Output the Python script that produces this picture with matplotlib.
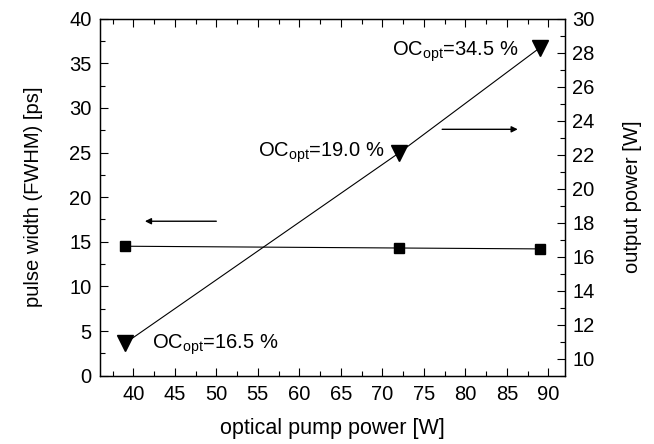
import matplotlib
matplotlib.use("Agg")
import matplotlib.pyplot as plt
from matplotlib.ticker import MultipleLocator

plt.rcParams['font.family'] = ['Liberation Sans', 'DejaVu Sans']
plt.rcParams['mathtext.fontset'] = 'custom'
plt.rcParams['mathtext.rm'] = 'Liberation Sans'
plt.rcParams['mathtext.it'] = 'Liberation Sans'

# data
pump_power = [39, 72, 89]
pulse_width = [14.5, 14.3, 14.2]        # ps, left axis
output_power = [10.9, 22.1, 28.3]       # W, right axis
oc_labels = ["16.5", "19.0", "34.5"]
# label anchors (x, left-axis y)
oc_pos = [(42.2, 3.05), (55.0, 24.5), (71.1, 35.9)]

fig = plt.figure(figsize=(6.54, 4.44), dpi=100)
ax = fig.add_axes([0.153, 0.154, 0.711, 0.804])
ax2 = ax.twinx()

ax.plot(pump_power, pulse_width, '-', color='black', lw=0.8,
        marker='s', markersize=7.5, zorder=3)
ax2.plot(pump_power, output_power, '-', color='black', lw=0.8,
         marker='v', markersize=11, zorder=3)

ax.set_xlim(36, 92)
ax.set_ylim(0, 40)
ax2.set_ylim(9, 30)

ax.xaxis.set_major_locator(MultipleLocator(5))
ax.xaxis.set_minor_locator(MultipleLocator(2.5))
ax.yaxis.set_major_locator(MultipleLocator(5))
ax.yaxis.set_minor_locator(MultipleLocator(2.5))
ax2.yaxis.set_major_locator(MultipleLocator(2))
ax2.yaxis.set_minor_locator(MultipleLocator(1))

ax.tick_params(which='both', direction='in', top=True, right=False,
               labelsize=14.5, width=0.8)
ax.tick_params(which='major', length=6)
ax.tick_params(which='minor', length=3.5)
ax2.tick_params(which='both', direction='in', labelsize=14.5, width=0.8)
ax2.tick_params(which='major', length=6)
ax2.tick_params(which='minor', length=3.5)
ax.tick_params(axis='x', pad=7)
ax.tick_params(axis='y', pad=6)
ax2.tick_params(axis='y', pad=5)
for a in (ax, ax2):
    for s in a.spines.values():
        s.set_linewidth(0.9)

ax.set_xlabel('optical pump power [W]', fontsize=15.5, labelpad=10)
ax.set_ylabel('pulse width (FWHM) [ps]', fontsize=14.5, labelpad=19)
ax2.set_ylabel('output power [W]', fontsize=14.5, rotation=90,
               va='center')
ax2.yaxis.set_label_coords(1.144, 0.5)

for (tx, ty), lab in zip(oc_pos, oc_labels):
    ax.text(tx, ty, r'OC$_{\rm opt}$=' + lab + ' %', fontsize=14.5,
            ha='left', va='baseline')

# arrows pointing to the matching axis
ax.annotate('', xy=(41.4, 17.3), xytext=(50.0, 17.3),
            arrowprops=dict(arrowstyle='-|>', color='black', lw=1.0,
                            mutation_scale=9, shrinkA=0, shrinkB=0))
ax.annotate('', xy=(86.3, 27.6), xytext=(77.2, 27.6),
            arrowprops=dict(arrowstyle='-|>', color='black', lw=1.0,
                            mutation_scale=9, shrinkA=0, shrinkB=0))

fig.savefig('out.png', dpi=100)
